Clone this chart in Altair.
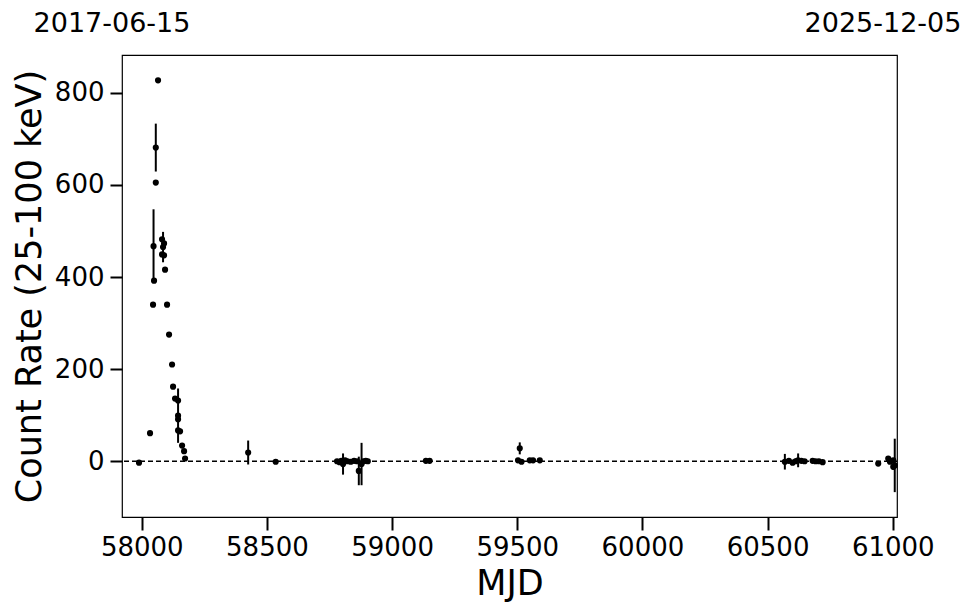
import altair as alt
import pandas as pd

# Observations (MJD, count rate 25-100 keV, 1-sigma error)
mjd = [57989, 58033, 58045, 58047, 58049, 58056, 58056, 58065,
       58081, 58081, 58085, 58089, 58089, 58093, 58101, 58109,
       58121, 58125, 58133, 58145, 58145, 58145, 58145, 58153,
       58161, 58169, 58173,
       58425, 58535,
       58780, 58790, 58797, 58804, 58812, 58822, 58835, 58848, 58860,
       58867, 58878, 58885, 58895, 58903,
       59135, 59150,
       59503, 59510, 59517, 59550, 59563, 59590,
       60569, 60585, 60600, 60612, 60622, 60635, 60648,
       60680, 60692, 60705, 60720,
       60942, 60982, 60989, 61002, 61002, 61008]
rate = [-3, 61, 340, 467, 392, 681, 605, 827,
        482, 449, 465, 473, 447, 416, 340, 275,
        210, 162, 136, 132, 99, 91, 67, 65,
        34, 22, 6,
        19, -1,
        0, -2, 1, -6, 2, 0, -1, 1, 0,
        -21, -6, 0, 1, 0,
        1, 1,
        2, 28, -1, 2, 2, 2,
        -1, 1, -3, 0, 2, 1, 0,
        1, 0, 0, -2,
        -5, 6, -1, -12, 2, -9]
err = [2, 3, 3, 80, 3, 52, 3, 3,
       3, 3, 33, 3, 3, 3, 3, 3,
       3, 3, 3, 3, 59, 3, 3, 3,
       3, 3, 3,
       26, 2,
       3, 3, 3, 23, 3, 3, 3, 3, 3,
       31, 46, 3, 3, 3,
       2, 2,
       3, 13, 3, 3, 3, 3,
       17, 3, 3, 6, 15, 3, 3,
       3, 3, 3, 3,
       3, 3, 3, 6, 3, 58]

top_dates = ["2017-06-15", "2025-12-05"]
x_domain = [57921, 61017]
y_domain = [-121, 882]
x_ticks = [58000, 58500, 59000, 59500, 60000, 60500, 61000]
y_ticks = [0, 200, 400, 600, 800]

df = pd.DataFrame({"mjd": mjd, "rate": rate, "err": err})
df["lo"] = df["rate"] - df["err"]
df["hi"] = df["rate"] + df["err"]

FONT = "DejaVu Sans"

xs = alt.Scale(domain=x_domain, nice=False, zero=False)
ys = alt.Scale(domain=y_domain, nice=False, zero=False)

xaxis = alt.Axis(values=x_ticks, format="d", title="MJD", grid=False,
                 domain=False, tickSize=13, tickWidth=2, tickColor="black",
                 labelFontSize=26, labelFont=FONT, labelColor="black",
                 labelPadding=4, titleFontSize=35, titleFont=FONT,
                 titleFontWeight="normal", titleColor="black", titlePadding=6)
yaxis = alt.Axis(values=y_ticks, format="d", title="Count Rate (25-100 keV)",
                 grid=False, domain=False, tickSize=12, tickWidth=2,
                 tickColor="black", labelFontSize=26, labelFont=FONT,
                 labelColor="black", labelPadding=6, titleFontSize=35,
                 titleFont=FONT, titleFontWeight="normal", titleColor="black",
                 titlePadding=7)

base = alt.Chart(df)

zero = alt.Chart(pd.DataFrame({"z": [0]})).mark_rule(
    color="black", strokeWidth=1.5, strokeDash=[5, 3]
).encode(y=alt.Y("z:Q", scale=ys, axis=yaxis))

bars = base.mark_rule(color="black", strokeWidth=2).encode(
    x=alt.X("mjd:Q", scale=xs, axis=xaxis),
    y=alt.Y("lo:Q", scale=ys, axis=yaxis),
    y2="hi:Q",
)

pts = base.mark_circle(color="black", opacity=1, size=38).encode(
    x=alt.X("mjd:Q", scale=xs, axis=xaxis),
    y=alt.Y("rate:Q", scale=ys, axis=yaxis),
)

top_left = alt.Chart(pd.DataFrame({"x": [x_domain[0]], "t": [top_dates[0]]})).mark_text(
    font=FONT, fontSize=27, color="black", align="center", baseline="alphabetic", dx=-10
).encode(x=alt.X("x:Q", scale=xs, axis=xaxis), y=alt.value(-23), text="t:N")

top_right = alt.Chart(pd.DataFrame({"x": [x_domain[1]], "t": [top_dates[1]]})).mark_text(
    font=FONT, fontSize=27, color="black", align="center", baseline="alphabetic", dx=-14
).encode(x=alt.X("x:Q", scale=xs, axis=xaxis), y=alt.value(-23), text="t:N")

chart = alt.layer(zero, bars, pts, top_left, top_right).properties(
    width=775, height=462,
    autosize=alt.AutoSizeParams(type="none"),
    padding={"left": 114, "top": 47, "right": 67, "bottom": 86},
    background="white",
).configure_view(stroke="black", strokeWidth=1.2)

chart.save("out.html", embed_options={"renderer": "svg", "actions": False})
